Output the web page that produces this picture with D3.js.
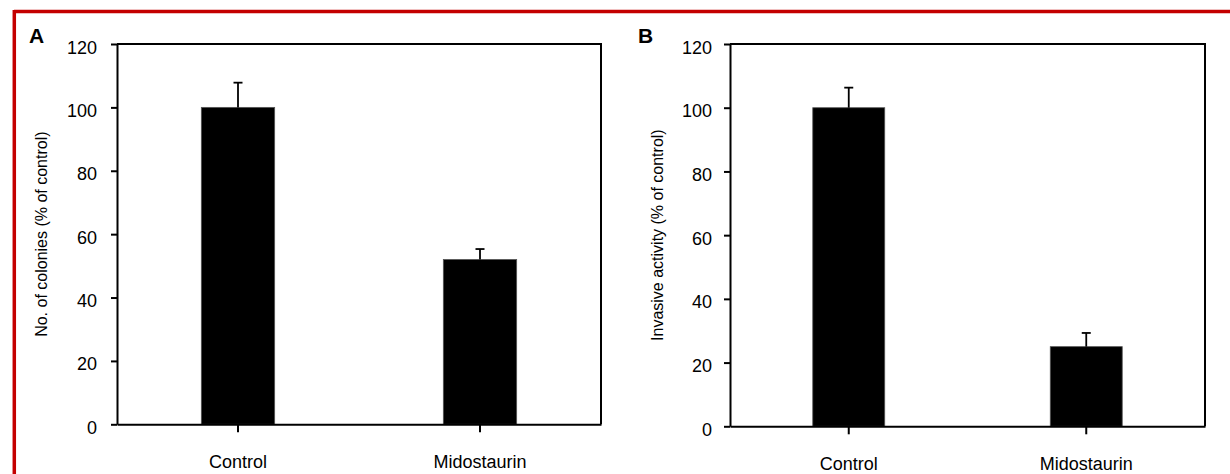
<!DOCTYPE html>
<html><head><meta charset="utf-8">
<script src="https://cdn.jsdelivr.net/npm/d3@7"></script>
<style>body{margin:0;background:#fff;} svg{display:block;} text{font-family:"Liberation Sans",Arial,sans-serif;fill:#000;}</style>
</head><body>
<svg id="chart" width="1230" height="474"></svg>
<script>
const categories = ["Control", "Midostaurin"];
const coloniesMean = [100, 52];
const coloniesErr = [7.8, 3.3];
const invasiveMean = [100, 25];
const invasiveErr = [6.3, 4.3];
const yTicks = [0, 20, 40, 60, 80, 100, 120];
const panelLetters = ["A", "B"];
const yTitles = ["No. of colonies (% of control)", "Invasive activity (% of control)"];

const svg = d3.select("#chart");
// red frame
svg.append("line").attr("x1",14).attr("x2",1230).attr("y1",11.5).attr("y2",11.5).attr("stroke","#c40000").attr("stroke-width",3.5);
svg.append("line").attr("x1",14.3).attr("x2",14.3).attr("y1",10).attr("y2",474).attr("stroke","#c40000").attr("stroke-width",3.5);

const panels = [
  {letter: panelLetters[0], title: yTitles[0], mean: coloniesMean, err: coloniesErr,
   x0:117, x1:601, y0:44, y1:424.3, lx:29, titleX:41, pad:14},
  {letter: panelLetters[1], title: yTitles[1], mean: invasiveMean, err: invasiveErr,
   x0:730, x1:1205, y0:44, y1:426.3, lx:638, titleX:657, pad:12}
];

panels.forEach(p => {
  const g = svg.append("g");
  const y = d3.scaleLinear().domain([0,120]).range([p.y1, p.y0]);
  const x = d3.scaleBand().domain(categories).range([p.x0, p.x1]).paddingInner(0.697).paddingOuter(0.3485);

  // bars
  g.selectAll("rect.bar").data(categories).join("rect")
    .attr("x", d => x(d)).attr("width", x.bandwidth())
    .attr("y", (d,i) => y(p.mean[i])).attr("height", (d,i) => y(0) - y(p.mean[i]))
    .attr("fill","#000").attr("stroke","#555").attr("stroke-width",0.8);

  // error bars
  categories.forEach((c,i) => {
    const cx = x(c) + x.bandwidth()/2;
    g.append("line").attr("x1",cx).attr("x2",cx).attr("y1",y(p.mean[i])).attr("y2",y(p.mean[i]+p.err[i]))
      .attr("stroke","#000").attr("stroke-width",1.8);
    g.append("line").attr("x1",cx-4.5).attr("x2",cx+4.5).attr("y1",y(p.mean[i]+p.err[i])).attr("y2",y(p.mean[i]+p.err[i]))
      .attr("stroke","#000").attr("stroke-width",1.8);
  });

  // frame top/right
  g.append("path").attr("d", `M${p.x0},${p.y0}H${p.x1}V${p.y1}`).attr("fill","none").attr("stroke","#000").attr("stroke-width",2);

  // y axis
  const ya = g.append("g").attr("transform",`translate(${p.x0},0)`)
    .call(d3.axisLeft(y).tickValues(yTicks).tickSize(6).tickPadding(p.pad).tickSizeOuter(0));
  ya.select(".domain").attr("stroke-width",2);
  ya.selectAll(".tick line").attr("stroke-width",2);
  ya.selectAll(".tick text").attr("font-size",18).attr("dy","0.5em").style("font-family","'Liberation Sans',Arial,sans-serif");

  // x axis
  const xa = g.append("g").attr("transform",`translate(0,${p.y1})`)
    .call(d3.axisBottom(x).tickSize(8).tickPadding(23).tickSizeOuter(0));
  xa.select(".domain").attr("stroke-width",2);
  xa.selectAll(".tick line").attr("stroke-width",2);
  xa.selectAll(".tick text").attr("font-size",18).style("font-family","'Liberation Sans',Arial,sans-serif");

  // panel letter
  svg.append("text").attr("x",p.lx).attr("y",43).attr("font-size",21).attr("font-weight","bold").text(p.letter);

  // y title
  svg.append("text").attr("transform",`translate(${p.titleX+6},${(p.y0+p.y1)/2}) rotate(-90)`)
    .attr("text-anchor","middle").attr("font-size",16).text(p.title);
});
</script>
</body></html>
